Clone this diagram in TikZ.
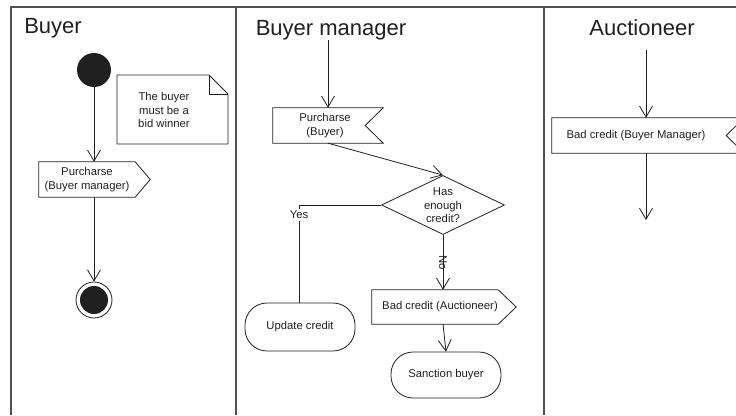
\documentclass[tikz,border=0pt]{standalone}
\usepackage{fontspec}
\setmainfont{Liberation Sans}
\usetikzlibrary{arrows.meta,shapes.geometric,calc}
\definecolor{frame}{HTML}{505050}
\definecolor{ink}{HTML}{202020}
\tikzset{
  lane/.style={draw=frame,line width=1.6pt},
  title/.style={font=\fontsize{22}{26}\selectfont,text=ink,anchor=base,inner sep=0pt},
  conn/.style={draw=ink,line width=0.8pt},
  arr/.style={conn,-{Straight Barb[length=11pt,width=13pt,line width=0.8pt]}},
  small/.style={font=\fontsize{11.3}{13.5}\selectfont,text=ink,align=center,inner sep=0pt},
  box/.style={small,minimum height=35pt},
  outline/.style={draw=ink,line width=0.8pt,fill=white},
  activity/.style={small,draw=ink,line width=0.8pt,rounded corners=22pt,minimum height=48pt},
}
\begin{document}
\begin{tikzpicture}[x=1pt,y=-1pt]
\useasboundingbox (0,0) rectangle (736,415);
\fill[white] (0,0) rectangle (736,415);
\begin{scope}
\clip (0,0) rectangle (736,415);
% swimlanes
\draw[lane] (11,415) -- (11,7) -- (740,7);
\draw[lane] (236,7) -- (236,415);
\draw[lane] (544,7) -- (544,415);
\node[title] (t1) at (53,33) {Buyer};
\node[title] (t2) at (331,35) {Buyer manager};
\node[title] (t3) at (642,35) {Auctioneer};

% ---- Buyer lane
\node[circle,fill=ink,minimum size=34pt,inner sep=0pt] (init) at (94,70) {};
% note
\coordinate (nA) at (117,75);
\coordinate (nB) at (228,144);
\draw[outline] (117,75) -- (209,75) -- (228,94) -- (228,144) -- (117,144) -- cycle;
\draw[draw=ink,line width=0.8pt] (209,75) -- (209,94) -- (228,94);
\node[small] (note) at (164,110) {The buyer\\must be a\\bid winner};
% send signal
\node[box,minimum width=96pt] (p1) at (87,179.5) {Purcharse\\(Buyer manager)};
\draw[outline] (p1.north west) -- (p1.north east) -- ($(p1.east)+(15,0)$) -- (p1.south east) -- (p1.south west) -- cycle;
\node[box,minimum width=96pt] at (87,179.5) {Purcharse\\(Buyer manager)};
% final
\node[circle,draw=ink,line width=0.8pt,minimum size=36pt,inner sep=0pt] (fin) at (94,300) {};
\node[circle,fill=ink,minimum size=28pt,inner sep=0pt] (fin2) at (94,300) {};
\draw[arr] (init) -- (init |- p1.north);
\draw[arr] (init |- p1.south) -- (fin);

% ---- Buyer manager lane
\coordinate (s2) at (328,40);
\node[box,minimum width=110pt] (p2) at (328,125.5) {};
\draw[outline] (p2.north west) -- (p2.north east) -- ($(p2.east)+(-18,0)$) -- (p2.south east) -- (p2.south west) -- cycle;
\node[small] (p2t) at (325,125.5) {Purcharse\\(Buyer)};
\draw[arr] (s2) -- (p2.north);

\node[diamond,draw=ink,line width=0.8pt,fill=white,minimum width=123pt,minimum height=59pt,inner sep=0pt,aspect=2.1] (dec) at (443,205) {};
\node[small] (dect) at (443,205.5) {Has\\enough\\credit?};
\draw[arr] (p2.south) -- (dec.north);

\node[activity,minimum width=110pt] (upd) at (300,327) {Update credit};
\coordinate (yc) at (299,205);
\draw[conn] (dec.west) -- (yc) -- (upd.north -| yc);
\node[small,fill=white,inner sep=2pt] (yes) at (299,215) {Yes};

\node[box,minimum width=126pt,minimum height=34pt] (bc1) at (435,307) {};
\draw[outline] (bc1.north west) -- (bc1.north east) -- ($(bc1.east)+(18,0)$) -- (bc1.south east) -- (bc1.south west) -- cycle;
\node[small] (bc1t) at (440,307) {Bad credit (Auctioneer)};
\draw[arr] (dec.south) -- (dec.south |- bc1.north);
\node[small,rotate=-90] (no) at (443,263) {No};

\node[activity,minimum width=110pt,minimum height=46pt] (san) at (446,375) {Sanction buyer};
\draw[arr] (bc1.south -| dec.south) -- (san.north);

% ---- Auctioneer lane
\coordinate (s3) at (646,50);
\node[box,minimum width=192pt] (bc2) at (648,135.5) {};
\draw[outline] (bc2.north west) -- (bc2.north east) -- ($(bc2.east)+(-18,0)$) -- (bc2.south east) -- (bc2.south west) -- cycle;
\node[small] (bc2t) at (636,135.5) {Bad credit (Buyer Manager)};
\coordinate (e3) at (646,220);
\draw[arr] (s3) -- (s3 |- bc2.north);
\draw[arr] (s3 |- bc2.south) -- (e3);
\end{scope}
\end{tikzpicture}
\end{document}
